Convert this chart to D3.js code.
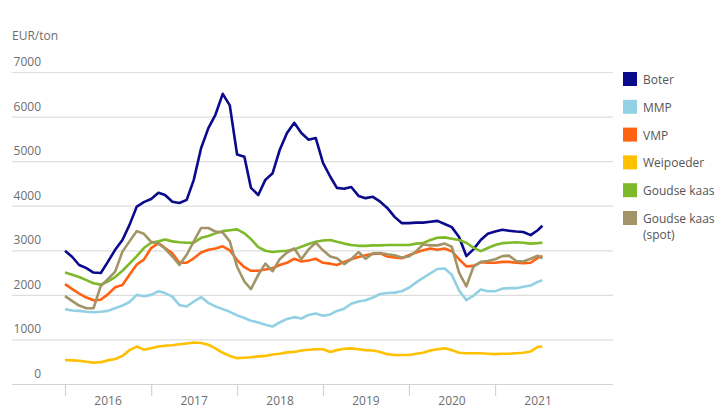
<!DOCTYPE html>
<html>
 <head>
   <meta charset="utf-8" />
   <title>Zuivelnoteringen</title>
   <script src="https://cdn.jsdelivr.net/npm/d3@7/dist/d3.min.js"></script>
   <style>
     body { margin: 0; background: #fff; }
     text { font-family: "Open Sans", sans-serif; }
   </style>
 </head>

 <body>
   <script>
     var width = 723, height = 408;

     // monthly readings jan 2016 .. jul 2021, plus the last quotation
     var months = d3.timeMonth.range(new Date(2016, 0, 1), new Date(2021, 7, 1));
     months.push(new Date(2021, 6, 21));

     var boter = [2990,2850,2670,2600,2500,2490,2740,3010,3230,3570,3980,4080,
                  4150,4290,4240,4090,4060,4130,4580,5290,5740,6040,6510,6250,
                  5150,5100,4400,4240,4580,4730,5250,5630,5860,5630,5480,5520,
                  4960,4650,4400,4380,4420,4220,4170,4200,4090,3950,3750,3610,
                  3610,3620,3620,3640,3660,3590,3520,3300,2870,3020,3230,3370,
                  3420,3460,3440,3420,3410,3340,3450,3550];
     var mmp = [1680,1650,1640,1620,1610,1620,1640,1700,1760,1840,2000,1970,
                2000,2080,2040,1960,1770,1740,1850,1950,1820,1740,1680,1620,
                1540,1480,1420,1380,1330,1290,1380,1460,1500,1470,1550,1580,
                1530,1560,1640,1690,1800,1850,1880,1940,2020,2040,2050,2080,
                2160,2280,2380,2480,2580,2590,2450,2100,1880,1980,2120,2080,
                2080,2140,2150,2150,2180,2210,2290,2330];
     var vmp = [2240,2130,2030,1940,1880,1890,2010,2170,2220,2450,2680,2790,
                3050,3160,3050,2930,2720,2720,2820,2950,3010,3040,3090,3000,
                2780,2620,2540,2540,2570,2600,2670,2720,2810,2750,2770,2810,
                2720,2700,2670,2740,2800,2850,2890,2920,2930,2860,2840,2820,
                2890,2950,3000,3040,3010,3040,2980,2800,2640,2650,2730,2720,
                2720,2740,2740,2720,2710,2720,2830,2870];
     var weipoeder = [540,530,520,500,480,490,530,560,630,760,840,770,
                      800,840,860,870,890,910,930,920,880,800,700,630,
                      580,590,600,620,630,660,680,710,720,750,770,780,
                      780,720,760,790,800,780,760,750,720,670,650,650,
                      650,680,700,750,780,800,760,700,690,690,690,680,
                      670,680,680,690,700,730,830,840];
     var goudse = [2500,2450,2400,2330,2260,2230,2300,2400,2540,2700,2870,3050,
                   3170,3200,3240,3200,3180,3170,3170,3280,3320,3380,3430,3450,
                   3470,3380,3250,3070,2990,2960,2980,2990,3020,3080,3140,3190,
                   3220,3230,3190,3150,3120,3100,3100,3110,3110,3120,3120,3120,
                   3120,3150,3160,3230,3280,3290,3260,3230,3170,3060,2980,3050,
                   3120,3160,3170,3180,3170,3150,3160,3170];
     var goudseSpot = [1970,1860,1760,1700,1700,2200,2350,2520,2970,3200,3430,3370,
                       3190,3150,3040,2860,2670,2900,3200,3500,3500,3420,3400,3200,
                       2630,2300,2130,2450,2700,2530,2800,2950,3040,2800,3020,3170,
                       3000,2860,2820,2690,2800,2960,2810,2930,2940,2910,2890,2840,
                       2860,2980,3130,3110,3110,3150,3080,2500,2190,2630,2740,2760,
                       2800,2870,2880,2760,2750,2810,2880,2820];

     var seriesNames = ["Boter", "MMP", "VMP", "Weipoeder", "Goudse kaas", "Goudse kaas (spot)"];
     var seriesValues = [boter, mmp, vmp, weipoeder, goudse, goudseSpot];
     var seriesColors = ["#0a0a8c", "#92d1e4", "#ff6212", "#ffc000", "#7db928", "#a39468"];

     var yTicks = [0, 1000, 2000, 3000, 4000, 5000, 6000, 7000];
     var yearLabels = ["2016", "2017", "2018", "2019", "2020", "2021"];

     var svg = d3.select("body")
                 .append("svg")
                 .attr("width",  width)
                 .attr("height", height);

     var x = d3.scaleTime()
               .domain([new Date(2016, 0, 1), new Date(2022, 0, 1)])
               .range([65, 581]);

     var y = d3.scaleLinear()
               .domain([0, 7000])
               .range([384, 72]);

     // gridlines + labels
     var grid = svg.append("g");

     grid.selectAll("line")
         .data(yTicks)
         .enter().append("line")
           .attr("x1", 12)
           .attr("x2", 613)
           .attr("y1", function(d) { return y(d) + 0.5; })
           .attr("y2", function(d) { return y(d) + 0.5; })
           .attr("stroke", function(d) { return d == 0 ? "#d4d4d4" : "#dedede"; })
           .attr("stroke-width", 1.2);

     grid.selectAll("text")
         .data(yTicks)
         .enter().append("text")
           .attr("x", 41)
           .attr("y", function(d) { return y(d) - 6; })
           .attr("text-anchor", "end")
           .attr("font-size", 12)
           .attr("fill", "#6e6e6e")
           .text(function(d) { return d; });

     svg.append("text")
        .attr("x", 12)
        .attr("y", 40)
        .attr("font-size", 12)
        .attr("fill", "#6e6e6e")
        .text("EUR/ton");

     // x axis: ticks on year boundaries, labels in the middle of the year
     var years = yearLabels.map(function(d) { return new Date(+d, 0, 1); });
     years.push(new Date(2022, 0, 1));

     var xAxis = svg.append("g")
                    .attr("transform", "translate(0,384)")
                    .call(d3.axisBottom(x)
                            .tickValues(years.slice(0, 6))
                            .tickSize(12)
                            .tickFormat(""));
     xAxis.select(".domain").remove();
     xAxis.selectAll(".tick line")
          .attr("stroke", "#d4d4d4")
          .attr("stroke-width", 1.2);

     svg.append("g")
        .selectAll("text")
        .data(yearLabels)
        .enter().append("text")
          .attr("x", function(d, i) { return (x(years[i]) + x(years[i + 1])) / 2; })
          .attr("y", 405)
          .attr("text-anchor", "middle")
          .attr("font-size", 12)
          .attr("fill", "#6e6e6e")
          .text(function(d) { return d; });

     // lines
     var line = d3.line()
                  .x(function(d, i) { return x(months[i]); })
                  .y(function(d) { return y(d); });

     svg.append("g")
        .selectAll("path")
        .data(seriesValues)
        .enter().append("path")
          .attr("d", line)
          .attr("fill", "none")
          .attr("stroke", function(d, i) { return seriesColors[i]; })
          .attr("stroke-width", 2.6)
          .attr("stroke-linejoin", "round");

     // legend
     var legend = svg.append("g")
                     .selectAll("g")
                     .data(seriesNames)
                     .enter().append("g")
                       .attr("transform", function(d, i) { return "translate(623," + (72 + i * 27.8) + ")"; });

     legend.append("rect")
           .attr("width", 14)
           .attr("height", 14)
           .attr("fill", function(d, i) { return seriesColors[i]; });

     // second line of a long name goes in its own text element
     legend.each(function(d) {
       var parts = d.split(" (");
       var g = d3.select(this);
       g.append("text")
        .attr("x", 20)
        .attr("y", 12)
        .attr("font-size", 12)
        .attr("fill", "#555")
        .text(parts[0]);
       if (parts.length > 1) {
         g.append("text")
          .attr("x", 20)
          .attr("y", 28)
          .attr("font-size", 12)
          .attr("fill", "#555")
          .text("(" + parts[1]);
       }
     });
  </script>
 </body>
</html>
